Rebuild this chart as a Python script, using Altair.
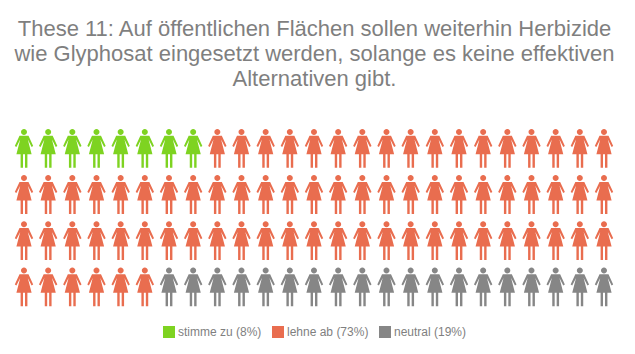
import altair as alt
import pandas as pd

title_lines = [
    "These 11: Auf öffentlichen Flächen sollen weiterhin Herbizide",
    "wie Glyphosat eingesetzt werden, solange es keine effektiven",
    "Alternativen gibt.",
]
categories = ["stimme zu (8%)", "lehne ab (73%)", "neutral (19%)"]
counts = [8, 73, 19]
colors = ["#7ED321", "#E96D4F", "#868686"]
columns_per_row = 25

labels = [c for c, n in zip(categories, counts) for _ in range(n)]
df = pd.DataFrame({
    "col": [i % columns_per_row for i in range(len(labels))],
    "row": [i // columns_per_row for i in range(len(labels))],
    "answer": labels,
})

U = 19.5
def p(x, y):
    return f"{x / U:.4f},{(y - 19.5) / U:.4f}"

outline = [(-4.5, 6.8), (4.5, 6.8), (9.2, 17), (7.6, 18), (3.8, 10.6), (7.6, 25.3), (3.4, 25.3), (3.4, 38.8),
           (1.0, 38.8), (1.0, 25.3), (-1.0, 25.3), (-1.0, 38.8), (-3.4, 38.8), (-3.4, 25.3), (-7.6, 25.3),
           (-3.8, 10.6), (-7.6, 18), (-9.2, 17)]
body = "M" + " L".join(p(x, y) for x, y in outline) + " Z"
hr = 3.0 / U
head = f"M{p(-3, 3)} A{hr:.4f},{hr:.4f} 0 1 1 {p(3, 3)} A{hr:.4f},{hr:.4f} 0 1 1 {p(-3, 3)} Z"
person = head + " " + body

chart = (
    alt.Chart(df)
    .mark_point(shape=person, filled=True, opacity=1, size=1521, strokeWidth=0)
    .encode(
        x=alt.X("col:Q", axis=None, scale=alt.Scale(domain=[0, 24], range=[16, 596])),
        y=alt.Y("row:Q", axis=None, scale=alt.Scale(domain=[0, 3], range=[20.4, 159])),
        color=alt.Color(
            "answer:N",
            scale=alt.Scale(domain=categories, range=colors),
            legend=alt.Legend(
                title=None, orient="none", direction="horizontal", columns=3,
                legendX=155, legendY=198, symbolType="square", symbolSize=144,
                symbolStrokeWidth=0, symbolOpacity=1, labelFont="Liberation Sans", labelFontSize=12,
                labelColor="#7F7F7F", columnPadding=10, labelOffset=3, padding=0,
            ),
        ),
    )
    .properties(
        width=619, height=218,
        padding={"left": 0, "top": 120, "right": 0, "bottom": 0},
        autosize=alt.AutoSizeParams(type="none"),
        title=alt.TitleParams(
            text=title_lines, font="Liberation Sans", fontSize=22, fontWeight="normal",
            color="#7F7F7F", lineHeight=25, anchor="middle", offset=37, dx=-3,
        ),
    )
    .configure_view(stroke=None)
)
chart.save("out.html", embed_options={"renderer": "svg", "actions": False})
